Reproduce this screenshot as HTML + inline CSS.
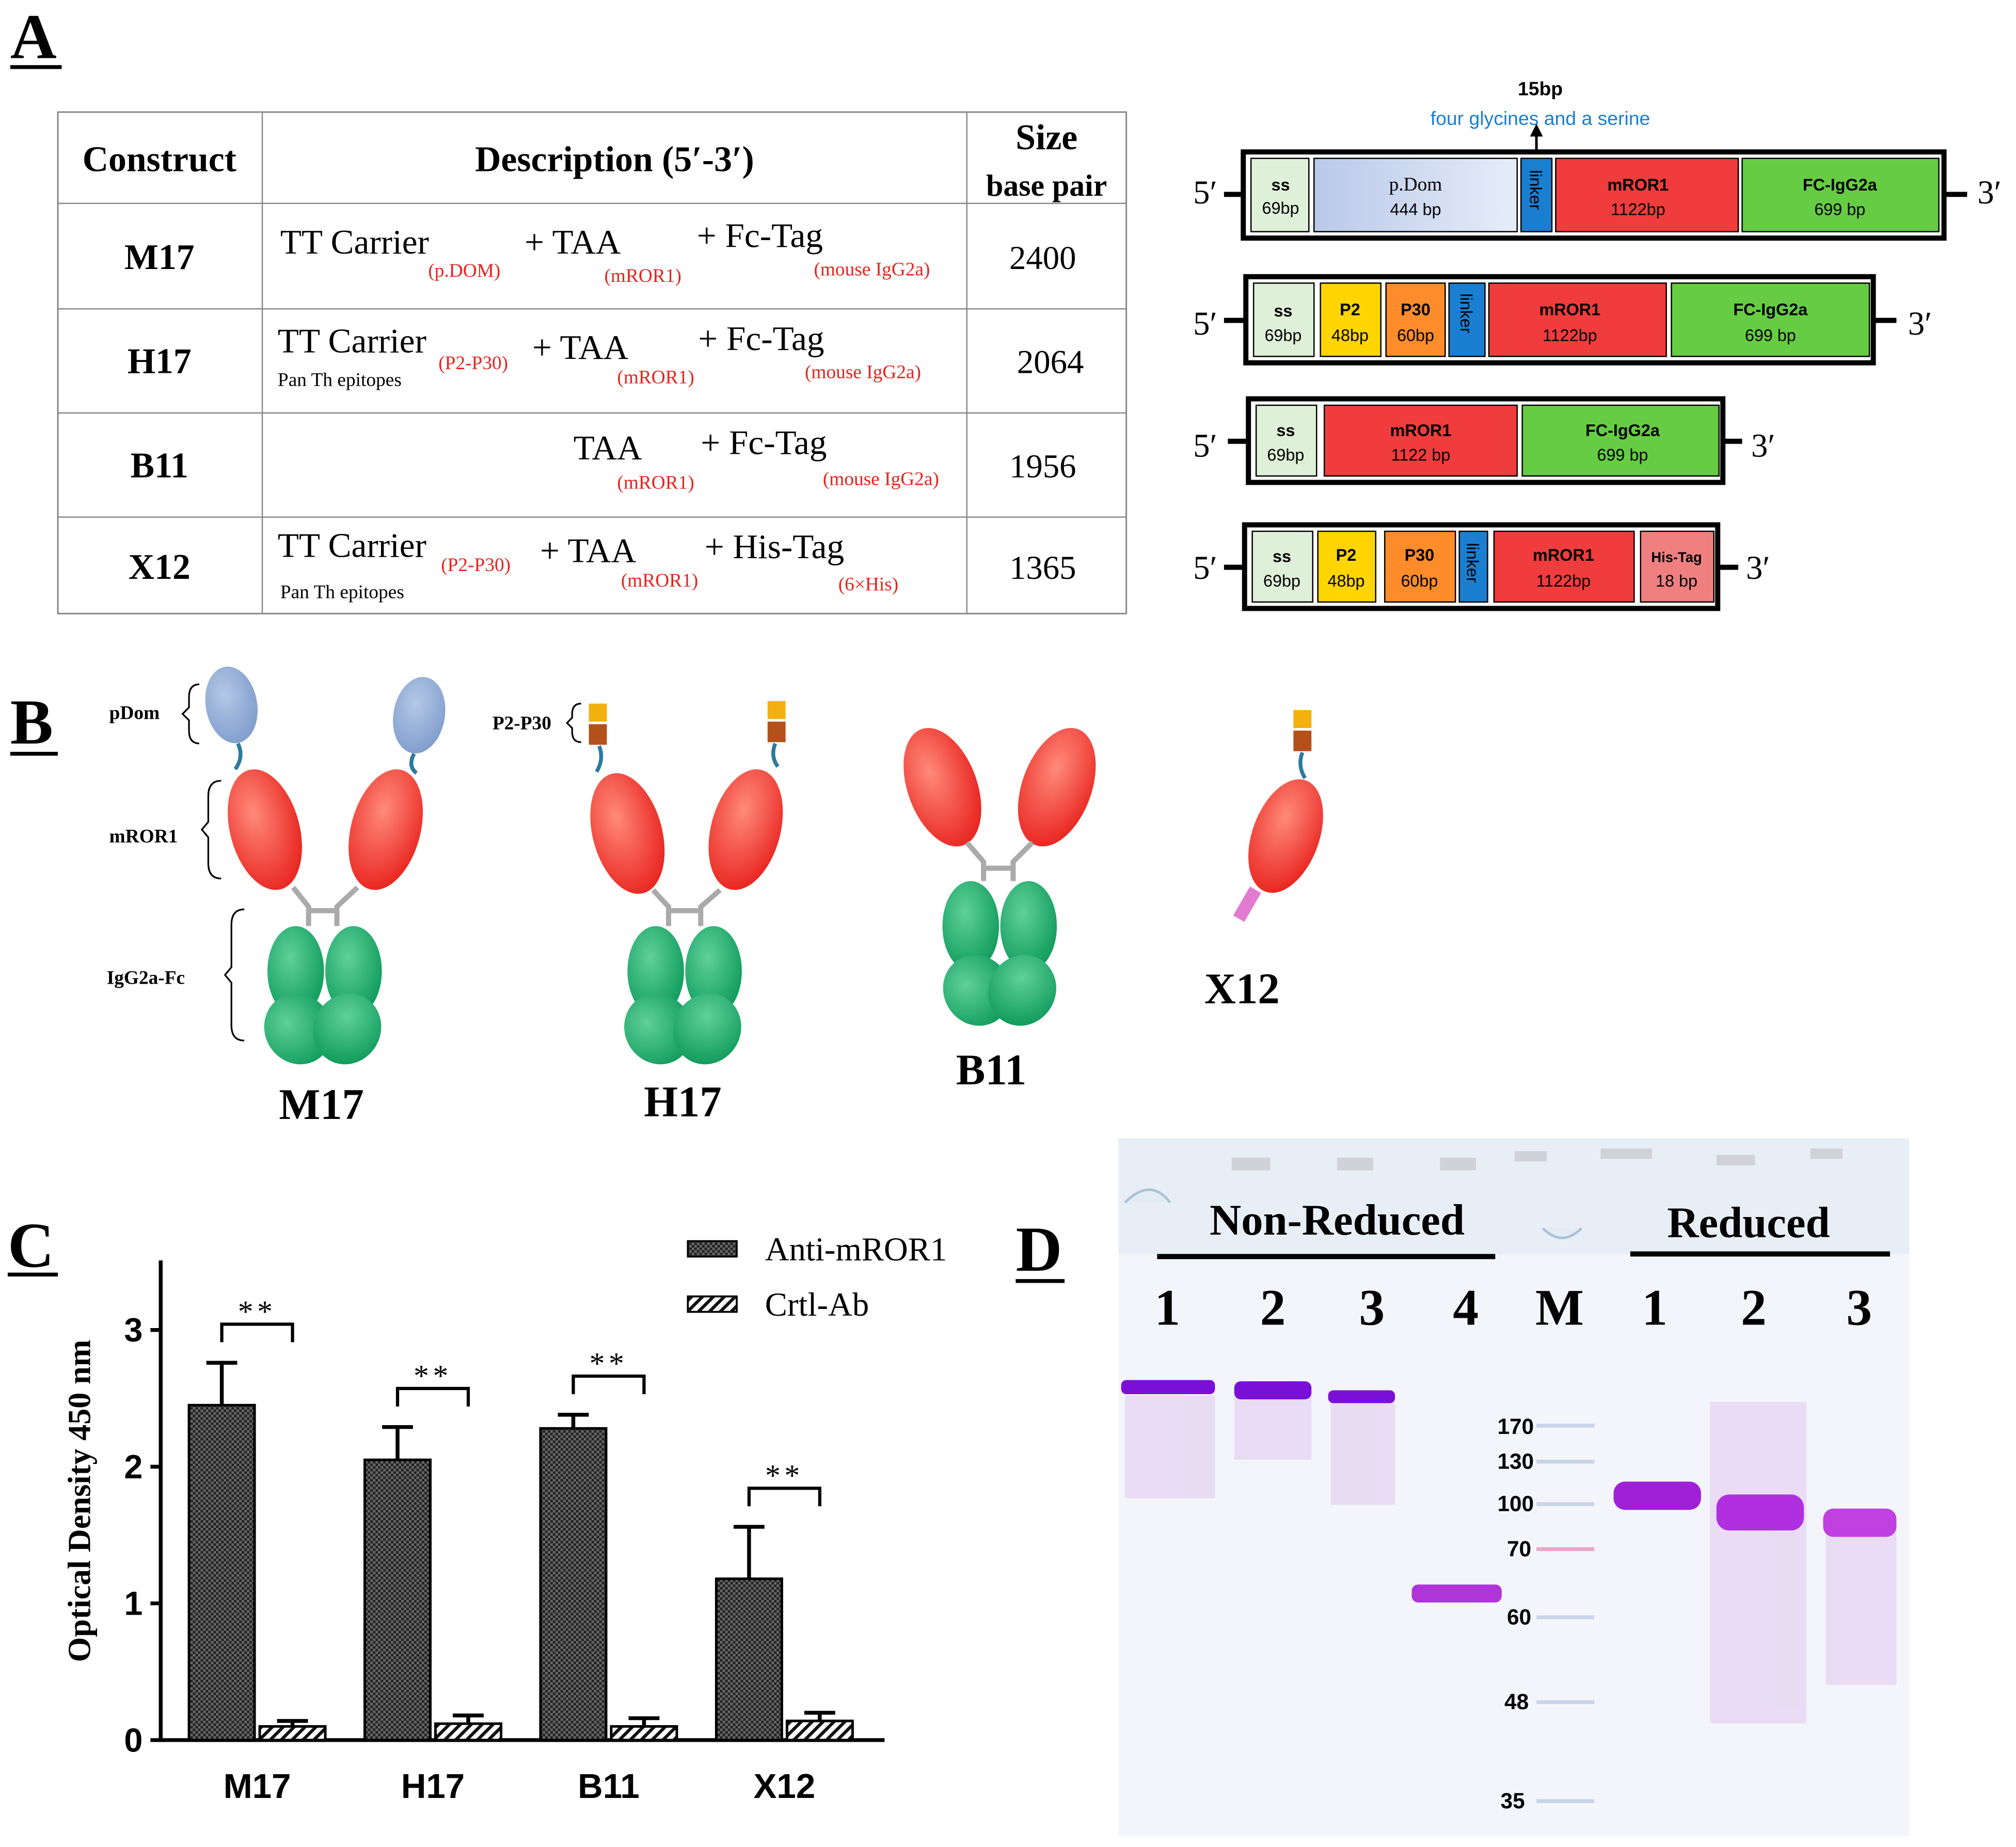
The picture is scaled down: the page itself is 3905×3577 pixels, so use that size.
<!DOCTYPE html>
<html><head><meta charset="utf-8"><style>
html,body{margin:0;padding:0;background:#fff}
svg{display:block}
.serif{font-family:"Liberation Serif",serif}
.sans{font-family:"Liberation Sans",sans-serif}
</style></head><body>
<svg width="3905" height="3577" viewBox="0 0 1568 1436" xmlns="http://www.w3.org/2000/svg">
<defs>
<pattern id="check" width="4" height="4" patternUnits="userSpaceOnUse"><rect width="4" height="4" fill="#222"/><rect width="2" height="2" fill="#666"/><rect x="2" y="2" width="2" height="2" fill="#666"/></pattern>
<pattern id="hatch" width="6" height="6" patternUnits="userSpaceOnUse" patternTransform="rotate(45)"><rect width="6" height="6" fill="#fff"/><rect width="2.5" height="6" fill="#111"/></pattern>
<linearGradient id="pdom" x1="0" x2="1"><stop offset="0" stop-color="#b9c9ea"/><stop offset="1" stop-color="#e6ecf8"/></linearGradient>
<radialGradient id="red" cx="0.4" cy="0.35" r="0.7"><stop offset="0" stop-color="#ff8a7a"/><stop offset="1" stop-color="#e8231e"/></radialGradient>
<radialGradient id="grn" cx="0.4" cy="0.35" r="0.7"><stop offset="0" stop-color="#5fd09a"/><stop offset="1" stop-color="#0e9a5a"/></radialGradient>
<radialGradient id="blu" cx="0.4" cy="0.35" r="0.7"><stop offset="0" stop-color="#b4c8e6"/><stop offset="1" stop-color="#7f9ccc"/></radialGradient>
</defs>

<!-- Panel A -->
<text class="serif" x="8" y="45" font-size="50" font-weight="bold">A</text>
<line x1="8" y1="52" x2="48" y2="52" stroke="#000" stroke-width="3"/>
<g class="serif">
<rect x="45" y="87" width="831" height="390" fill="none" stroke="#888" stroke-width="1.2"/>
<line x1="204" y1="87" x2="204" y2="477" stroke="#888"/><line x1="752" y1="87" x2="752" y2="477" stroke="#888"/>
<line x1="45" y1="158" x2="876" y2="158" stroke="#888"/><line x1="45" y1="240" x2="876" y2="240" stroke="#888"/>
<line x1="45" y1="321" x2="876" y2="321" stroke="#888"/><line x1="45" y1="402" x2="876" y2="402" stroke="#888"/>
<text x="124" y="133" font-size="28" font-weight="bold" text-anchor="middle">Construct</text>
<text x="478" y="133" font-size="28" font-weight="bold" text-anchor="middle">Description (5′-3′)</text>
<text x="814" y="116" font-size="28" font-weight="bold" text-anchor="middle">Size</text>
<text x="814" y="152" font-size="24" font-weight="bold" text-anchor="middle">base pair</text>
<g font-size="28" font-weight="bold" text-anchor="middle"><text x="124" y="209">M17</text><text x="124" y="290">H17</text><text x="124" y="371">B11</text><text x="124" y="450">X12</text></g>
<g font-size="26" text-anchor="middle"><text x="811" y="209">2400</text><text x="817" y="290">2064</text><text x="811" y="371">1956</text><text x="811" y="450">1365</text></g>
<g font-size="27">
<text x="218" y="197">TT Carrier</text><text x="408" y="197">+ TAA</text><text x="542" y="192">+ Fc-Tag</text>
<text x="216" y="274">TT Carrier</text><text x="414" y="279">+ TAA</text><text x="543" y="272">+ Fc-Tag</text>
<text x="446" y="357">TAA</text><text x="545" y="353">+ Fc-Tag</text>
<text x="216" y="433">TT Carrier</text><text x="420" y="437">+ TAA</text><text x="548" y="434">+ His-Tag</text>
</g>
<g font-size="15"><text x="216" y="300">Pan Th epitopes</text><text x="218" y="465">Pan Th epitopes</text></g>
<g font-size="15" fill="#e8231e">
<text x="333" y="215">(p.DOM)</text><text x="470" y="219">(mROR1)</text><text x="633" y="214">(mouse IgG2a)</text>
<text x="341" y="287">(P2-P30)</text><text x="480" y="298">(mROR1)</text><text x="626" y="294">(mouse IgG2a)</text>
<text x="480" y="380">(mROR1)</text><text x="640" y="377">(mouse IgG2a)</text>
<text x="343" y="444">(P2-P30)</text><text x="483" y="456">(mROR1)</text><text x="652" y="459">(6×His)</text>
</g></g>

<!-- gene constructs -->
<g class="sans">
<text x="1198" y="74" font-size="15" font-weight="bold" text-anchor="middle">15bp</text>
<text x="1198" y="97" font-size="15" fill="#1a7fd0" text-anchor="middle">four glycines and a serine</text>
<line x1="1195" y1="117" x2="1195" y2="103" stroke="#000" stroke-width="2"/><path d="M1190,106 L1195,96 L1200,106Z"/>
<g font-size="26" class="serif"><text x="928" y="158">5′</text><text x="1538" y="158">3′</text><text x="928" y="260">5′</text><text x="1484" y="260">3′</text><text x="928" y="355">5′</text><text x="1362" y="355">3′</text><text x="928" y="450">5′</text><text x="1358" y="450">3′</text></g>
<g stroke="#000" stroke-width="4"><line x1="952" y1="151" x2="967" y2="151"/><line x1="1512" y1="151" x2="1530" y2="151"/><line x1="952" y1="249" x2="969" y2="249"/><line x1="1457" y1="249" x2="1475" y2="249"/><line x1="955" y1="343" x2="971" y2="343"/><line x1="1340" y1="343" x2="1355" y2="343"/><line x1="952" y1="441" x2="968" y2="441"/><line x1="1336" y1="441" x2="1352" y2="441"/></g>
<rect x="967" y="118" width="545" height="67" fill="#fff" stroke="#000" stroke-width="4"/>
<rect x="973" y="123" width="45" height="57" fill="#dff0d8" stroke="#000"/><rect x="1022" y="123" width="158" height="57" fill="url(#pdom)" stroke="#000"/><rect x="1183" y="123" width="24" height="57" fill="#1a7fd0" stroke="#000"/><rect x="1210" y="123" width="142" height="57" fill="#f03c3c" stroke="#000"/><rect x="1355" y="123" width="153" height="57" fill="#66cc44" stroke="#000"/>
<rect x="969" y="215" width="488" height="67" fill="#fff" stroke="#000" stroke-width="4"/>
<rect x="975" y="220" width="47" height="57" fill="#dff0d8" stroke="#000"/><rect x="1027" y="220" width="47" height="57" fill="#ffd500" stroke="#000"/><rect x="1078" y="220" width="46" height="57" fill="#ff8c2a" stroke="#000"/><rect x="1127" y="220" width="28" height="57" fill="#1a7fd0" stroke="#000"/><rect x="1158" y="220" width="138" height="57" fill="#f03c3c" stroke="#000"/><rect x="1300" y="220" width="154" height="57" fill="#66cc44" stroke="#000"/>
<rect x="971" y="310" width="369" height="65" fill="#fff" stroke="#000" stroke-width="4"/>
<rect x="977" y="315" width="47" height="55" fill="#dff0d8" stroke="#000"/><rect x="1030" y="315" width="150" height="55" fill="#f03c3c" stroke="#000"/><rect x="1184" y="315" width="153" height="55" fill="#66cc44" stroke="#000"/>
<rect x="968" y="408" width="368" height="65" fill="#fff" stroke="#000" stroke-width="4"/>
<rect x="974" y="413" width="47" height="55" fill="#dff0d8" stroke="#000"/><rect x="1025" y="413" width="45" height="55" fill="#ffd500" stroke="#000"/><rect x="1077" y="413" width="55" height="55" fill="#ff8c2a" stroke="#000"/><rect x="1135" y="413" width="22" height="55" fill="#1a7fd0" stroke="#000"/><rect x="1162" y="413" width="109" height="55" fill="#f03c3c" stroke="#000"/><rect x="1276" y="413" width="57" height="55" fill="#f08080" stroke="#000"/>
<g font-size="13" text-anchor="middle">
<text x="996" y="148" font-weight="bold">ss</text><text x="996" y="166">69bp</text>
<text x="1101" y="148" class="serif" font-size="15">p.Dom</text><text x="1101" y="167">444 bp</text>
<text x="1274" y="148" font-weight="bold">mROR1</text><text x="1274" y="167">1122bp</text>
<text x="1431" y="148" font-weight="bold">FC-IgG2a</text><text x="1431" y="167">699 bp</text>
<text x="998" y="246" font-weight="bold">ss</text><text x="998" y="265">69bp</text>
<text x="1050" y="245" font-weight="bold">P2</text><text x="1050" y="265">48bp</text>
<text x="1101" y="245" font-weight="bold">P30</text><text x="1101" y="265">60bp</text>
<text x="1221" y="245" font-weight="bold">mROR1</text><text x="1221" y="265">1122bp</text>
<text x="1377" y="245" font-weight="bold">FC-IgG2a</text><text x="1377" y="265">699 bp</text>
<text x="1000" y="339" font-weight="bold">ss</text><text x="1000" y="358">69bp</text>
<text x="1105" y="339" font-weight="bold">mROR1</text><text x="1105" y="358">1122 bp</text>
<text x="1262" y="339" font-weight="bold">FC-IgG2a</text><text x="1262" y="358">699 bp</text>
<text x="997" y="437" font-weight="bold">ss</text><text x="997" y="456">69bp</text>
<text x="1047" y="436" font-weight="bold">P2</text><text x="1047" y="456">48bp</text>
<text x="1104" y="436" font-weight="bold">P30</text><text x="1104" y="456">60bp</text>
<text x="1216" y="436" font-weight="bold">mROR1</text><text x="1216" y="456">1122bp</text>
<text x="1304" y="437" font-weight="bold" font-size="11">His-Tag</text><text x="1304" y="456">18 bp</text>
</g>
<g font-size="13"><text transform="translate(1190,132) rotate(90)">linker</text><text transform="translate(1136,228) rotate(90)">linker</text><text transform="translate(1141,422) rotate(90)">linker</text></g>
</g>

<!-- Panel B -->
<text class="serif" x="8" y="578" font-size="50" font-weight="bold">B</text>
<line x1="8" y1="586" x2="45" y2="586" stroke="#000" stroke-width="3"/>
<g>
<ellipse cx="180" cy="548" rx="20" ry="30" fill="url(#blu)" transform="rotate(-10 180 548)"/><ellipse cx="326" cy="556" rx="20" ry="30" fill="url(#blu)" transform="rotate(10 326 556)"/>
<path d="M185,578 q5,10 -2,20" stroke="#2a7aa0" stroke-width="3" fill="none"/><path d="M322,586 q-5,10 2,15" stroke="#2a7aa0" stroke-width="3" fill="none"/>
<ellipse cx="206" cy="645" rx="27" ry="48" fill="url(#red)" transform="rotate(-15 206 645)"/><ellipse cx="300" cy="645" rx="27" ry="48" fill="url(#red)" transform="rotate(15 300 645)"/>
<path d="M228,690 L240,705 L240,720 M278,690 L262,705 L262,720 M240,708 L262,708" stroke="#aaa" stroke-width="4" fill="none"/>
<ellipse cx="230" cy="755" rx="22" ry="35" fill="url(#grn)"/><ellipse cx="275" cy="755" rx="22" ry="35" fill="url(#grn)"/>
<ellipse cx="232" cy="800" rx="26" ry="28" fill="url(#grn)" transform="rotate(-30 232 800)"/><ellipse cx="270" cy="800" rx="26" ry="28" fill="url(#grn)" transform="rotate(30 270 800)"/>
<g class="serif" font-size="15" font-weight="bold"><text x="85" y="559">pDom</text><text x="85" y="655">mROR1</text><text x="83" y="765">IgG2a-Fc</text></g>
<path d="M155,532 q-8,0 -8,10 v8 l-5,5 l5,5 v8 q0,10 8,10 M172,607 q-10,0 -10,12 v20 l-5,6 l5,6 v20 q0,12 10,12 M190,707 q-10,0 -10,12 v33 l-5,6 l5,6 v33 q0,12 10,12" stroke="#000" stroke-width="1.3" fill="none"/>
<text class="serif" x="250" y="870" font-size="34" font-weight="bold" text-anchor="middle">M17</text>
</g>
<g>
<rect x="458" y="547" width="14" height="14" fill="#f2b10f"/><rect x="458" y="563" width="14" height="16" fill="#b4501a"/><rect x="597" y="545" width="14" height="14" fill="#f2b10f"/><rect x="597" y="561" width="14" height="16" fill="#b4501a"/>
<path d="M466,580 q4,10 -2,20 M603,578 q-4,10 2,18" stroke="#2a7aa0" stroke-width="3" fill="none"/>
<ellipse cx="488" cy="648" rx="27" ry="48" fill="url(#red)" transform="rotate(-15 488 648)"/><ellipse cx="580" cy="645" rx="27" ry="48" fill="url(#red)" transform="rotate(15 580 645)"/>
<path d="M508,692 L520,705 L520,720 M560,692 L545,705 L545,720 M520,708 L545,708" stroke="#aaa" stroke-width="4" fill="none"/>
<ellipse cx="510" cy="755" rx="22" ry="35" fill="url(#grn)"/><ellipse cx="555" cy="755" rx="22" ry="35" fill="url(#grn)"/>
<ellipse cx="512" cy="800" rx="26" ry="28" fill="url(#grn)" transform="rotate(-30 512 800)"/><ellipse cx="550" cy="800" rx="26" ry="28" fill="url(#grn)" transform="rotate(30 550 800)"/>
<text class="serif" x="383" y="567" font-size="15" font-weight="bold">P2-P30</text>
<path d="M452,547 q-7,0 -7,8 v3 l-4,4 l4,4 v3 q0,8 7,8" stroke="#000" stroke-width="1.3" fill="none"/>
<text class="serif" x="531" y="868" font-size="34" font-weight="bold" text-anchor="middle">H17</text>
</g>
<g>
<ellipse cx="733" cy="612" rx="27" ry="48" fill="url(#red)" transform="rotate(-20 733 612)"/><ellipse cx="822" cy="612" rx="27" ry="48" fill="url(#red)" transform="rotate(20 822 612)"/>
<path d="M752,655 L765,670 L765,685 M803,655 L788,670 L788,685 M765,675 L788,675" stroke="#aaa" stroke-width="4" fill="none"/>
<ellipse cx="755" cy="720" rx="22" ry="35" fill="url(#grn)"/><ellipse cx="800" cy="720" rx="22" ry="35" fill="url(#grn)"/>
<ellipse cx="760" cy="770" rx="26" ry="28" fill="url(#grn)" transform="rotate(-30 760 770)"/><ellipse cx="795" cy="770" rx="26" ry="28" fill="url(#grn)" transform="rotate(30 795 770)"/>
<text class="serif" x="771" y="843" font-size="34" font-weight="bold" text-anchor="middle">B11</text>
</g>
<g>
<rect x="1006" y="552" width="14" height="14" fill="#f2b10f"/><rect x="1006" y="568" width="14" height="16" fill="#b4501a"/>
<path d="M1013,585 q-4,10 2,20" stroke="#2a7aa0" stroke-width="3" fill="none"/>
<ellipse cx="1000" cy="650" rx="26" ry="46" fill="url(#red)" transform="rotate(20 1000 650)"/>
<rect x="965" y="690" width="10" height="26" fill="#e27bd0" transform="rotate(30 970 703)"/>
<text class="serif" x="966" y="780" font-size="34" font-weight="bold" text-anchor="middle">X12</text>
</g>

<!-- Panel C -->
<text class="serif" x="6" y="985" font-size="50" font-weight="bold">C</text>
<line x1="6" y1="991" x2="45" y2="991" stroke="#000" stroke-width="3"/>
<g id="chartC"></g>

<!-- Panel D -->
<text class="serif" x="790" y="988" font-size="50" font-weight="bold">D</text>
<line x1="790" y1="996" x2="828" y2="996" stroke="#000" stroke-width="3"/>
<g>
<rect x="870" y="885" width="615" height="543" fill="#f3f5fb"/>
<rect x="870" y="885" width="615" height="90" fill="#e8eef5"/>
<g fill="#e4ecf3" stroke="#a9c4d6" stroke-width="2"><path d="M875,935 q20,-20 35,0"/><path d="M1200,955 q15,15 30,0"/></g>
<g fill="#cfd2d8"><rect x="958" y="900" width="30" height="10"/><rect x="1040" y="900" width="28" height="10"/><rect x="1120" y="900" width="28" height="10"/><rect x="1178" y="895" width="25" height="8"/><rect x="1245" y="893" width="40" height="8"/><rect x="1335" y="898" width="30" height="8"/><rect x="1408" y="893" width="25" height="8"/></g>
<text class="serif" x="1040" y="960" font-size="34" font-weight="bold" text-anchor="middle">Non-Reduced</text>
<line x1="900" y1="977" x2="1163" y2="977" stroke="#000" stroke-width="4"/>
<text class="serif" x="1360" y="962" font-size="34" font-weight="bold" text-anchor="middle">Reduced</text>
<line x1="1268" y1="975" x2="1470" y2="975" stroke="#000" stroke-width="4"/>
<g class="serif" font-size="40" font-weight="bold" text-anchor="middle"><text x="908" y="1030">1</text><text x="990" y="1030">2</text><text x="1067" y="1030">3</text><text x="1140" y="1030">4</text><text x="1213" y="1030">M</text><text x="1287" y="1030">1</text><text x="1364" y="1030">2</text><text x="1446" y="1030">3</text></g>
<g fill="#e6d6f2" opacity="0.8"><rect x="875" y="1085" width="70" height="80"/><rect x="960" y="1085" width="60" height="50"/><rect x="1035" y="1090" width="50" height="80"/><rect x="1330" y="1090" width="75" height="250"/><rect x="1420" y="1190" width="55" height="120"/></g>
<g fill="#7a10d8"><rect x="872" y="1073" width="73" height="11" rx="4"/><rect x="960" y="1074" width="60" height="14" rx="5"/><rect x="1033" y="1081" width="52" height="10" rx="4"/><rect x="1098" y="1232" width="70" height="14" rx="5" fill="#b035d8"/><rect x="1255" y="1152" width="68" height="22" rx="9" fill="#a020d8"/><rect x="1335" y="1162" width="68" height="28" rx="10" fill="#b030e0"/><rect x="1418" y="1173" width="57" height="22" rx="8" fill="#c040e0"/></g>
<g fill="#c9d4e8"><rect x="1195" y="1107" width="45" height="3"/><rect x="1195" y="1135" width="45" height="3"/><rect x="1195" y="1168" width="45" height="3"/><rect x="1195" y="1203" width="45" height="3" fill="#e8a8c8"/><rect x="1195" y="1256" width="45" height="3"/><rect x="1195" y="1322" width="45" height="3"/><rect x="1195" y="1399" width="45" height="3"/></g>
<g class="sans" font-size="17" font-weight="bold" text-anchor="end"><text x="1193" y="1115">170</text><text x="1193" y="1142">130</text><text x="1193" y="1175">100</text><text x="1191" y="1210">70</text><text x="1191" y="1263">60</text><text x="1189" y="1329">48</text><text x="1186" y="1406">35</text></g>
</g>

<script>
var categories = ["M17","H17","B11","X12"];
var antiValues = [2.45, 2.05, 2.28, 1.18];
var antiErrors = [0.31, 0.24, 0.10, 0.38];
var ctrlValues = [0.10, 0.12, 0.10, 0.14];
var ctrlErrors = [0.04, 0.06, 0.06, 0.06];
var yTicks = [0,1,2,3];
var sigLabels = ["**","**","**","**"];
(function(){
  var NS="http://www.w3.org/2000/svg", g=document.getElementById('chartC');
  var x0=125, x1=688, y0=1353, ppu=106.3;
  function y(v){return y0-v*ppu;}
  function xc(i){return 200+i*136.7;}
  function mk(t,a,txt){var e=document.createElementNS(NS,t);for(var k in a)e.setAttribute(k,a[k]);if(txt!=null)e.textContent=txt;g.appendChild(e);return e;}
  var ax=mk('path',{d:'M'+x0+',980 V'+y0+' H'+x1,stroke:'#000','stroke-width':3,fill:'none'});
  
  
  yTicks.forEach(function(t){
    var tl=mk('line',{x1:x0-8,x2:x0,y1:y(t),y2:y(t),stroke:'#000','stroke-width':3});
    
    
    var tx=mk('text',{x:x0-14,y:y(t)+9,'font-size':26,'font-weight':'bold','text-anchor':'end','font-family':'Liberation Sans, sans-serif'},String(t));
    
    
  });
  var yt=mk('text',{transform:'translate(70,1167) rotate(-90)','font-size':25,'font-weight':'bold','text-anchor':'middle','font-family':'Liberation Serif, serif'},'Optical Density  450 nm');
  
  
  categories.forEach(function(c,i){
    var cx=xc(i), w=51;
    var b=mk('rect',{x:cx-w-2,y:y(antiValues[i]),width:w,height:antiValues[i]*ppu,fill:'url(#check)',stroke:'#000','stroke-width':2});
    
    
    var h=mk('rect',{x:cx+2,y:y(ctrlValues[i]),width:w,height:ctrlValues[i]*ppu,fill:'url(#hatch)',stroke:'#000','stroke-width':2});
    
    
    var ea=cx-w/2-2, ec=cx+w/2+2;
    var e1=mk('path',{d:'M'+ea+','+y(antiValues[i])+' V'+y(antiValues[i]+antiErrors[i])+' M'+(ea-12)+','+y(antiValues[i]+antiErrors[i])+' H'+(ea+12),stroke:'#000','stroke-width':3,fill:'none'});
    
    
    var e2=mk('path',{d:'M'+ec+','+y(ctrlValues[i])+' V'+y(ctrlValues[i]+ctrlErrors[i])+' M'+(ec-12)+','+y(ctrlValues[i]+ctrlErrors[i])+' H'+(ec+12),stroke:'#000','stroke-width':3,fill:'none'});
    
    
    var top=y(antiValues[i]+antiErrors[i])-30;
    var br=mk('path',{d:'M'+ea+','+(top+14)+' V'+top+' H'+ec+' V'+(top+14),stroke:'#000','stroke-width':2.5,fill:'none'});
    
    
    var st=mk('text',{x:cx,y:top-2,'font-size':24,'text-anchor':'middle','font-family':'Liberation Serif, serif','letter-spacing':3},sigLabels[i]);
    
    
    var lb=mk('text',{x:cx,y:1398,'font-size':27,'font-weight':'bold','text-anchor':'middle','font-family':'Liberation Sans, sans-serif'},c);
    
    
  });
  var l1=mk('rect',{x:535,y:965,width:38,height:12,fill:'url(#check)',stroke:'#000','stroke-width':1.5});
  
  
  var t1=mk('text',{x:595,y:980,'font-size':26,'font-family':'Liberation Serif, serif'},'Anti-mROR1');
  
  
  var l2=mk('rect',{x:535,y:1008,width:38,height:12,fill:'url(#hatch)',stroke:'#000','stroke-width':1.5});
  
  
  var t2=mk('text',{x:595,y:1023,'font-size':26,'font-family':'Liberation Serif, serif'},'Crtl-Ab');
  
  
})();
</script>
</svg>
</body></html>
